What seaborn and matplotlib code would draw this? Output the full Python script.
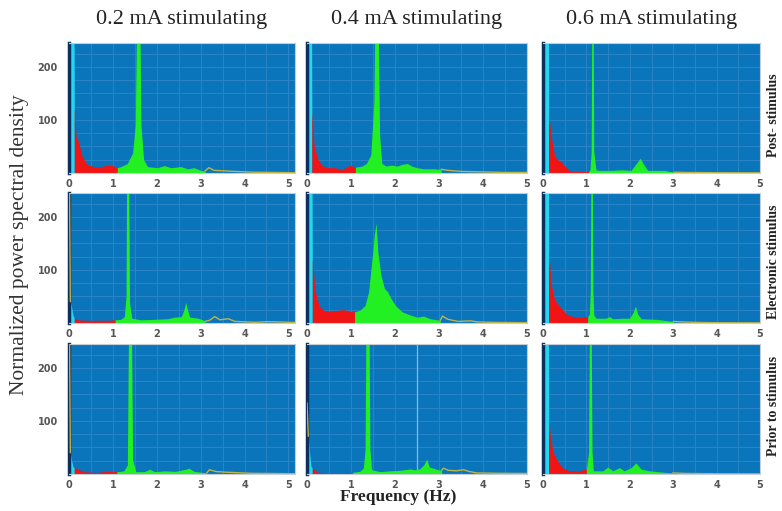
from __future__ import annotations

import matplotlib

matplotlib.use("Agg")
import matplotlib.pyplot as plt
import numpy as np
import seaborn as sns


# ---------------------------------------------------------------------------
# Data
# bands = (vlf start, vlf end / lf start, lf end / hf start, hf end) in Hz
# ---------------------------------------------------------------------------

CURRENTS = ["0.2 mA stimulating", "0.4 mA stimulating", "0.6 mA stimulating"]
CONDITIONS = ["Post- stimulus", "Electronic stimulus", "Prior to stimulus"]
X_MAX = [5.15, 5.0, 5.0]

freq_02_post = [0.0, 0.11, 0.12, 0.16, 0.21, 0.3, 0.42, 0.58, 0.73, 0.88, 0.99, 1.1, 1.18, 1.33, 1.45,
                1.51, 1.56, 1.6, 1.64, 1.7, 1.79, 2.02, 2.17, 2.32, 2.55, 2.7, 2.85, 3.0, 3.1, 3.19,
                3.3, 3.76, 4.2, 4.7, 5.15]
psd_02_post = [400, 400, 123, 70, 60, 31, 15, 12, 12, 15, 14, 10, 12, 18, 38,
               90, 400, 400, 90, 25, 12, 10, 14, 10, 12, 8, 10, 5, 4, 10,
               5, 3, 1.5, 1.0, 0.5]
bands_02_post = (0.0, 0.12, 1.1, 3.1)

freq_04_post = [0.0, 0.1, 0.11, 0.16, 0.24, 0.34, 0.48, 0.64, 0.8, 0.92, 1.0, 1.1, 1.25, 1.35, 1.45,
                1.52, 1.56, 1.6, 1.65, 1.7, 1.8, 1.92, 2.05, 2.15, 2.28, 2.38, 2.5, 2.65, 2.85, 3.05,
                3.2, 3.5, 4.0, 4.5, 5.0]
psd_04_post = [400, 400, 116, 53, 27, 14, 10, 10, 6, 13, 14, 11, 13, 18, 34,
               135, 400, 400, 72, 18, 13, 15, 13, 16, 18, 13, 10, 8, 8, 7,
               5, 3, 2, 1, 1]
bands_04_post = (0.0, 0.11, 1.1, 3.05)

freq_06_post = [0.0, 0.12, 0.13, 0.2, 0.27, 0.34, 0.42, 0.5, 0.61, 0.8, 0.96, 1.05, 1.08, 1.11, 1.13,
                1.15, 1.17, 1.22, 1.3, 1.57, 1.8, 2.03, 2.16, 2.24, 2.32, 2.41, 2.8, 3.02, 3.3, 4.0,
                5.0]
psd_06_post = [400, 400, 113, 63, 31, 25, 22, 13, 4, 3, 2.5, 3, 5, 40, 400,
               400, 40, 6, 5, 5, 6, 5, 19, 28, 16, 5, 5, 1.5, 1, 0.5,
               0.3]
bands_06_post = (0.0, 0.13, 1.05, 3.02)

freq_02_elec = [0.0, 0.03, 0.06, 0.09, 0.12, 0.2, 0.4, 0.7, 0.9, 1.05, 1.18, 1.26, 1.3, 1.32, 1.35,
                1.38, 1.43, 1.64, 1.95, 2.25, 2.4, 2.56, 2.62, 2.66, 2.7, 2.75, 2.94, 3.05, 3.1, 3.2,
                3.32, 3.44, 3.63, 3.78, 4.24, 4.54, 5.15]
psd_02_elec = [400, 40, 30, 15, 9, 6, 5, 5, 5, 6, 7, 12, 50, 400, 400,
               37, 9, 6, 7, 8, 11, 12, 25, 39, 25, 11, 9, 6, 3, 5,
               12, 6, 8, 3, 1.3, 2.5, 1]
bands_02_elec = (0.03, 0.12, 1.05, 3.1)

freq_04_elec = [0.0, 0.11, 0.12, 0.19, 0.27, 0.38, 0.5, 0.7, 0.85, 0.97, 1.08, 1.2, 1.32, 1.4, 1.48,
                1.53, 1.57, 1.61, 1.68, 1.76, 1.83, 1.91, 2.01, 2.16, 2.35, 2.5, 2.65, 2.8, 3.03, 3.08,
                3.2, 3.43, 3.72, 3.88, 4.34, 5.0]
psd_04_elec = [400, 400, 120, 59, 33, 24, 22, 24, 25, 22, 21, 24, 33, 59, 122,
               166, 188, 134, 90, 65, 59, 46, 33, 21, 15, 11, 13, 8, 5, 13,
               7, 3, 4, 2, 1, 0.5]
bands_04_elec = (0.0, 0.12, 1.08, 3.03)

freq_06_elec = [0.0, 0.12, 0.13, 0.19, 0.27, 0.38, 0.53, 0.69, 0.84, 0.98, 1.03, 1.07, 1.09, 1.11, 1.13,
                1.15, 1.17, 1.22, 1.45, 1.53, 1.61, 1.84, 1.99, 2.08, 2.13, 2.18, 2.26, 2.6, 2.9, 3.0,
                3.2, 3.6, 4.0, 5.0]
psd_06_elec = [400, 400, 141, 72, 43, 32, 17, 12, 10, 12, 12, 17, 61, 400, 400,
               61, 15, 9, 9, 12, 8, 9, 9, 20, 32, 17, 8, 7, 4, 3,
               2, 1, 0.5, 0.3]
bands_06_elec = (0.0, 0.13, 1.03, 3.0)

freq_02_prior = [0.0, 0.03, 0.06, 0.09, 0.12, 0.17, 0.31, 0.62, 0.86, 1.0, 1.09, 1.13, 1.25, 1.33, 1.37,
                 1.41, 1.45, 1.52, 1.72, 1.84, 1.95, 2.19, 2.42, 2.66, 2.73, 2.85, 3.05, 3.14, 3.2, 3.36,
                 3.67, 4.14, 5.15]
psd_02_prior = [400, 40, 25, 14, 12, 11, 4.5, 3, 5, 4.5, 4.5, 4.5, 6, 17, 400,
                400, 27, 4.5, 4.5, 9, 4.5, 6, 5, 9, 11, 5, 3, 2, 8, 4.5,
                3, 1.3, 0.5]
bands_02_prior = (0.03, 0.12, 1.09, 3.14)

freq_04_prior = [0.0, 0.03, 0.06, 0.09, 0.12, 0.14, 0.21, 0.44, 0.74, 0.97, 1.03, 1.2, 1.28, 1.32, 1.35,
                 1.4, 1.43, 1.47, 1.66, 1.88, 2.11, 2.34, 2.45, 2.57, 2.66, 2.72, 2.78, 2.87, 2.98, 3.06,
                 3.1, 3.21, 3.4, 3.56, 3.67, 3.86, 4.39, 5.0]
psd_04_prior = [134, 71, 40, 15, 11, 11, 4, 2, 2, 3, 3, 5, 11, 46, 400,
                400, 46, 8, 4.5, 6, 7, 9.5, 8, 10, 18, 28, 13, 11, 8, 7,
                11, 7, 6, 8, 5, 2, 1.3, 1]
bands_04_prior = (0.03, 0.12, 1.03, 3.06)
cursor_04_prior = 2.5

freq_06_prior = [0.0, 0.12, 0.13, 0.17, 0.23, 0.34, 0.46, 0.61, 0.84, 0.96, 1.0, 1.05, 1.08, 1.1, 1.13,
                 1.16, 1.2, 1.38, 1.49, 1.61, 1.76, 1.87, 2.03, 2.14, 2.26, 2.45, 2.76, 2.99, 3.3, 4.0,
                 5.0]
psd_06_prior = [400, 400, 112, 71, 41, 24, 11, 6, 6, 9, 9, 41, 400, 400, 41,
                6, 6, 6, 13, 6, 12, 6, 12, 21, 9, 6, 3.5, 2, 1, 0.5,
                0.3]
bands_06_prior = (0.0, 0.13, 1.0, 2.99)

PANELS = [
    [(freq_02_post, psd_02_post, bands_02_post, None),
     (freq_04_post, psd_04_post, bands_04_post, None),
     (freq_06_post, psd_06_post, bands_06_post, None)],
    [(freq_02_elec, psd_02_elec, bands_02_elec, None),
     (freq_04_elec, psd_04_elec, bands_04_elec, None),
     (freq_06_elec, psd_06_elec, bands_06_elec, None)],
    [(freq_02_prior, psd_02_prior, bands_02_prior, None),
     (freq_04_prior, psd_04_prior, bands_04_prior, cursor_04_prior),
     (freq_06_prior, psd_06_prior, bands_06_prior, None)],
]

# ---------------------------------------------------------------------------
# Style
# ---------------------------------------------------------------------------

BG = "#0B75BC"
GRID = "#2F86C6"
RED = "#F01414"
GREEN = "#22F022"
CYAN = "#22D8F0"
TAIL = "#BDB44A"
SPINE_LEFT = "#0D2F5E"
FRAME = "#C5CDD5"
Y_MAX = 245

W, H = 782, 511
COL_X = [(69, 295), (307, 527), (543, 760)]
ROW_Y = [(43, 173), (193, 323), (344, 474)]

sns.set_theme(style="white")
plt.rcParams["font.family"] = ["Liberation Serif", "DejaVu Serif"]


def px_rect(x0, x1, y0, y1):
    return [x0 / W, 1 - y1 / H, (x1 - x0) / W, (y1 - y0) / H]


def draw_panel(ax, freq, psd, bands, xmax, show_ylabels, cursor=None):
    f = np.asarray(freq, dtype=float)
    p = np.asarray(psd, dtype=float)
    vlf_lo, vlf_hi, lf_hi, hf_hi = bands

    ax.set_facecolor(BG)
    ax.set_axisbelow(True)

    for lo, hi, color in [(vlf_lo, vlf_hi, CYAN), (vlf_hi, lf_hi, RED), (lf_hi, hf_hi, GREEN)]:
        mask = (f >= lo) & (f <= hi)
        ax.fill_between(f[mask], 0, p[mask], color=color, lw=0, zorder=2)

    tail = f >= hf_hi
    sns.lineplot(x=f[tail], y=p[tail], ax=ax, color=TAIL, lw=1.0, zorder=3, estimator=None)
    head = f <= vlf_lo
    if head.sum() > 1:
        sns.lineplot(x=f[head], y=p[head], ax=ax, color=TAIL, lw=1.0, zorder=3, estimator=None)

    if cursor is not None:
        ax.axvline(cursor, color="#8DB9DA", lw=0.9, zorder=1.5)

    ax.set_xlim(0, xmax)
    ax.set_ylim(0, Y_MAX)

    xt = np.arange(0, 5.01, 0.5)
    ax.set_xticks(xt)
    ax.set_xticklabels([f"{v:.0f}" if v == int(v) else "" for v in xt],
                       fontsize=7, fontweight="bold", family="DejaVu Sans", color="#555555")
    yt = np.arange(0, Y_MAX, 25)
    ax.set_yticks(yt)
    ylabels = [f"{v}" if (show_ylabels and v in (100, 200)) else "" for v in yt]
    ax.set_yticklabels(ylabels, fontsize=7, fontweight="bold", family="DejaVu Sans", color="#555555")
    ax.tick_params(length=0, pad=4)
    ax.tick_params(axis="y", pad=8)

    ax.grid(True, color=GRID, lw=0.6)
    ax.set_xlabel("")
    ax.set_ylabel("")

    for side in ["top", "right", "bottom"]:
        ax.spines[side].set_color(FRAME)
        ax.spines[side].set_linewidth(0.8)
    ax.spines["left"].set_color(SPINE_LEFT)
    ax.spines["left"].set_linewidth(2.5)


def main() -> None:
    fig = plt.figure(figsize=(W / 100, H / 100), dpi=100)
    fig.patch.set_facecolor("white")

    for r, row in enumerate(PANELS):
        y0, y1 = ROW_Y[r]
        for c, (freq, psd, bands, cursor) in enumerate(row):
            x0, x1 = COL_X[c]
            ax = fig.add_axes(px_rect(x0, x1, y0, y1))
            draw_panel(ax, freq, psd, bands, X_MAX[c], show_ylabels=(c == 0), cursor=cursor)

    for c, title in enumerate(CURRENTS):
        x0, x1 = COL_X[c]
        fig.text((x0 + x1) / 2 / W, 1 - 19 / H, title, ha="center", va="center",
                 fontsize=16, color="#222222")

    # condition labels on the right, kept inside the canvas
    row_centers = [115, 262, 406]
    for r, label in enumerate(CONDITIONS):
        fig.text(780 / W, 1 - row_centers[r] / H, label, rotation=90, ha="right", va="center",
                 fontsize=10, fontweight="bold", color="#222222")

    fig.text(20 / W, 1 - 245 / H, "Normalized power spectral density", rotation=90,
             ha="center", va="center", fontsize=15.5, color="#333333")
    fig.text(398 / W, 1 - 497 / H, "Frequency (Hz)", ha="center", va="center",
             fontsize=12.5, fontweight="bold", color="#222222")

    fig.savefig("out.png", dpi=100, facecolor="white")
    plt.close(fig)


if __name__ == "__main__":
    main()
